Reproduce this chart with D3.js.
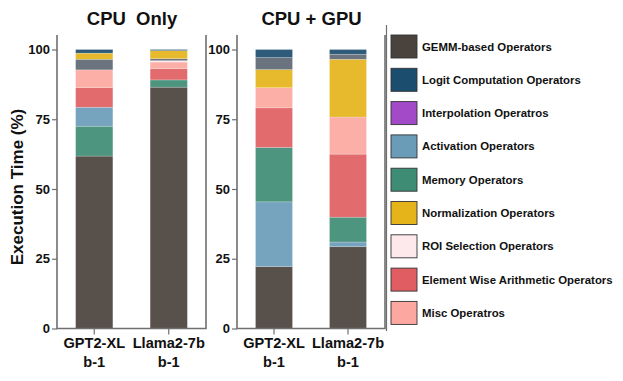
<!DOCTYPE html>
<html>
<head>
<meta charset="utf-8">
<script src="https://cdn.jsdelivr.net/npm/d3@7"></script>
<style>
  body { margin: 0; background: #fff; }
  text { font-family: "Liberation Sans", Arial, Helvetica, sans-serif; font-weight: bold; fill: #111; }
</style>
</head>
<body>
<svg id="chart" width="623" height="381"></svg>
<script>
// models on the x axis (two text lines each)
const models = ['GPT2-XL', 'Llama2-7b'];
const batchLabels = ['b-1', 'b-1'];
const panels = ['CPU  Only', 'CPU + GPU'];

// series shown in the legend (order of the legend)
const seriesNames = [
  'GEMM-based Operators',
  'Logit Computation Operators',
  'Interpolation Operatros',
  'Activation Operators',
  'Memory Operators',
  'Normalization Operators',
  'ROI Selection Operators',
  'Element Wise Arithmetic Operators',
  'Misc Operatros'
];
const seriesColors = ['#4a423c', '#1b4d6e', '#a24ac8', '#6a9cb8', '#3e8c74', '#e4b41a', '#fde8ec', '#e05e62', '#fca8a0'];
const otherName = 'Other Operators';   // grey slice, not in the legend
const otherColor = '#5e6873';

// execution time (%) per series: [GPT2-XL, Llama2-7b]
const cpuGemm = [61.8, 86.5];
const cpuLogit = [1.3, 0.4];
const cpuInterp = [0, 0];
const cpuActivation = [6.8, 0];
const cpuMemory = [10.7, 2.6];
const cpuNorm = [2.2, 2.9];
const cpuRoi = [0, 0.5];
const cpuElem = [7.0, 4.0];
const cpuMisc = [6.4, 2.4];
const cpuOther = [3.8, 0.7];

const gpuGemm = [22.2, 29.3];
const gpuLogit = [2.9, 1.7];
const gpuInterp = [0, 0];
const gpuActivation = [23.2, 1.7];
const gpuMemory = [19.5, 8.9];
const gpuNorm = [6.5, 20.7];
const gpuRoi = [0, 0];
const gpuElem = [14.2, 22.6];
const gpuMisc = [7.2, 13.3];
const gpuOther = [4.3, 1.8];

const yTicks = [0, 25, 50, 75, 100];

// stacking order bottom -> top for each panel
const cpuOrder = ['GEMM-based Operators', 'Interpolation Operatros', 'Memory Operators', 'Activation Operators',
  'Element Wise Arithmetic Operators', 'Misc Operatros', 'ROI Selection Operators', otherName,
  'Normalization Operators', 'Logit Computation Operators'];
const gpuOrder = ['GEMM-based Operators', 'Interpolation Operatros', 'Activation Operators', 'Memory Operators',
  'Element Wise Arithmetic Operators', 'Misc Operatros', 'ROI Selection Operators', 'Normalization Operators',
  otherName, 'Logit Computation Operators'];

function buildRows(gemm, logit, interp, act, mem, norm, roi, elem, misc, other) {
  return models.map((m, i) => ({
    model: m,
    'GEMM-based Operators': gemm[i],
    'Logit Computation Operators': logit[i],
    'Interpolation Operatros': interp[i],
    'Activation Operators': act[i],
    'Memory Operators': mem[i],
    'Normalization Operators': norm[i],
    'ROI Selection Operators': roi[i],
    'Element Wise Arithmetic Operators': elem[i],
    'Misc Operatros': misc[i],
    [otherName]: other[i]
  }));
}

const panelData = [
  { title: panels[0], rows: buildRows(cpuGemm, cpuLogit, cpuInterp, cpuActivation, cpuMemory, cpuNorm, cpuRoi, cpuElem, cpuMisc, cpuOther), order: cpuOrder, x0: 57, x1: 206 },
  { title: panels[1], rows: buildRows(gpuGemm, gpuLogit, gpuInterp, gpuActivation, gpuMemory, gpuNorm, gpuRoi, gpuElem, gpuMisc, gpuOther), order: gpuOrder, x0: 237, x1: 385 }
];

const color = d3.scaleOrdinal()
  .domain(seriesNames.concat([otherName]))
  .range(seriesColors.concat([otherColor]));

const svg = d3.select('#chart');
const yTop = 35, yBottom = 328.5;
const yScale = d3.scaleLinear().domain([0, 100]).range([yBottom, 49.5]);
const axisColor = '#6f6f6f';

panelData.forEach((p) => {
  const g = svg.append('g');
  const xScale = d3.scaleBand().domain(models).range([p.x0, p.x1])
    .paddingInner(0.5).paddingOuter(0.25);

  const stacked = d3.stack().keys(p.order)(p.rows);

  g.selectAll('.layer')
    .data(stacked)
    .enter()
    .append('g')
    .attr('fill', (d) => color(d.key))
    .selectAll('rect')
    .data((d) => d)
    .enter()
    .append('rect')
    .attr('x', (d) => xScale(d.data.model))
    .attr('y', (d) => yScale(d[1]))
    .attr('width', xScale.bandwidth())
    .attr('height', (d) => yScale(d[0]) - yScale(d[1]))
    .attr('fill-opacity', 0.92)
    .attr('stroke', '#fff')
    .attr('stroke-opacity', 0.35)
    .attr('stroke-width', 0.6);

  // left axis
  const yAxis = g.append('g')
    .attr('transform', `translate(${p.x0},0)`)
    .call(d3.axisLeft(yScale).tickValues(yTicks).tickSize(5).tickPadding(2));
  yAxis.select('.domain').remove();
  yAxis.selectAll('line').attr('stroke', axisColor).attr('stroke-width', 1.2);
  yAxis.selectAll('text').attr('font-size', 13).attr('fill', '#111')
    .attr('font-family', '"Liberation Sans", Arial, sans-serif');

  // bottom axis ticks
  const xAxis = g.append('g')
    .attr('transform', `translate(0,${yBottom})`)
    .call(d3.axisBottom(xScale).tickSize(6).tickFormat(''));
  xAxis.select('.domain').remove();
  xAxis.selectAll('line').attr('stroke', axisColor).attr('stroke-width', 1.2);

  // panel frame (open top)
  g.append('path')
    .attr('d', `M${p.x0},${yTop}V${yBottom}H${p.x1}V${yTop}`)
    .attr('fill', 'none')
    .attr('stroke', axisColor)
    .attr('stroke-width', 1.6);

  // category labels
  const lab = g.selectAll('.xlab')
    .data(models)
    .enter()
    .append('text')
    .attr('text-anchor', 'middle')
    .attr('font-size', 14.6)
    .attr('x', (d) => xScale(d) + xScale.bandwidth() / 2);
  lab.append('tspan').attr('y', 348).text((d) => d);
  lab.append('tspan').attr('y', 366.5)
    .attr('x', (d) => xScale(d) + xScale.bandwidth() / 2)
    .text((d, i) => batchLabels[i]);

  g.append('text')
    .attr('x', (p.x0 + p.x1) / 2 + 0.5)
    .attr('y', 25)
    .attr('text-anchor', 'middle')
    .attr('font-size', 18.5)
    .attr('xml:space', 'preserve')
    .style('white-space', 'pre')
    .text(p.title);
});

svg.append('text')
  .attr('transform', 'translate(23,187) rotate(-90)')
  .attr('text-anchor', 'middle')
  .attr('font-size', 17)
  .text('Execution Time (%)');

// legend
const legend = svg.append('g');
legend.append('line')
  .attr('x1', 386.5).attr('x2', 386.5)
  .attr('y1', 25).attr('y2', 331)
  .attr('stroke', axisColor).attr('stroke-width', 1.2);

const item = legend.selectAll('.item')
  .data(seriesNames)
  .enter()
  .append('g')
  .attr('transform', (d, i) => `translate(391,${35 + i * 33.3})`);
item.append('rect')
  .attr('width', 26).attr('height', 23)
  .attr('fill', (d) => color(d))
  .attr('stroke', '#333').attr('stroke-width', 0.9);
item.append('text')
  .attr('x', 31)
  .attr('y', 15.5)
  .attr('font-size', 11.4)
  .text((d) => d);
</script>
</body>
</html>
